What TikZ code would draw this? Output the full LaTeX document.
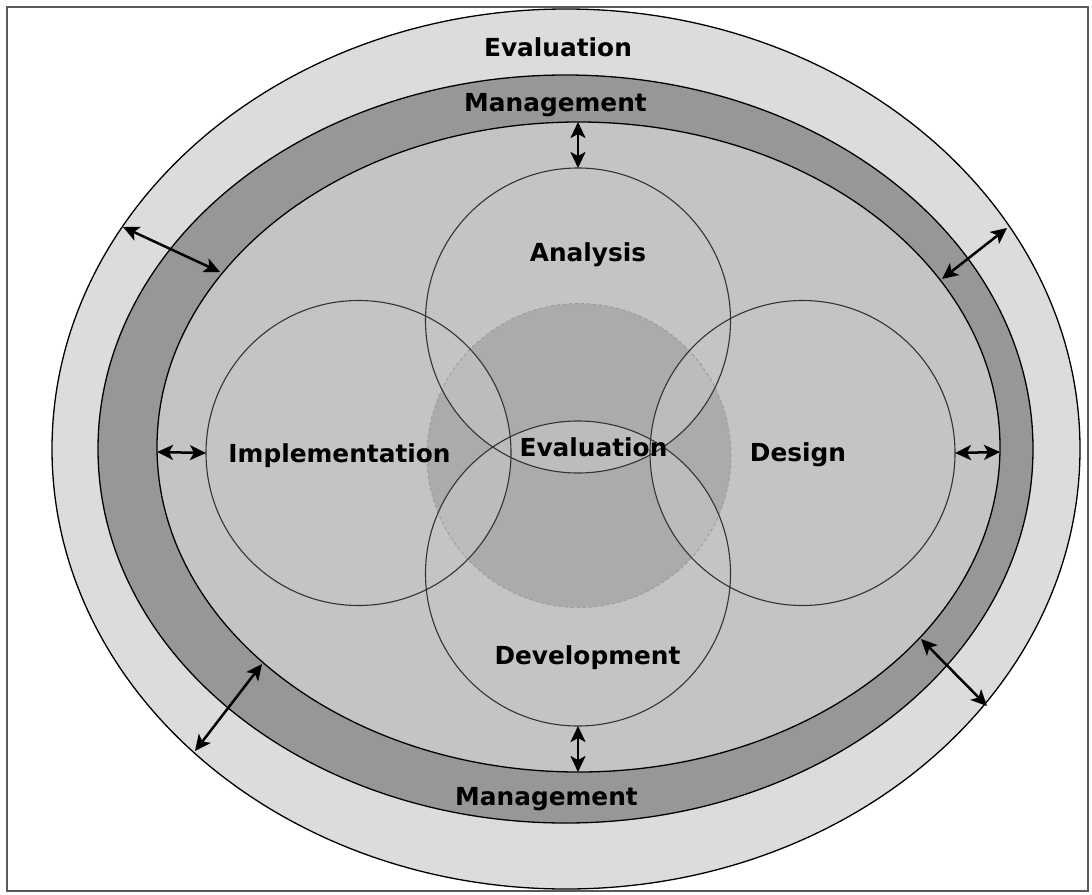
\documentclass[tikz,border=0pt]{standalone}
\usepackage{fontspec}
\setmainfont{DejaVu Sans}
\usetikzlibrary{arrows.meta,shapes.geometric}
\definecolor{ringlight}{HTML}{DCDCDC}
\definecolor{ringdark}{HTML}{979797}
\definecolor{innerfill}{HTML}{C4C4C4}
\definecolor{corefill}{HTML}{ABABAB}
\definecolor{lensfill}{HTML}{BCBCBC}
\definecolor{framegray}{HTML}{5A5A5A}
\definecolor{circline}{HTML}{333333}
\definecolor{dashgray}{HTML}{9A9A9A}
\begin{document}
\begin{tikzpicture}[x=1pt,y=-1pt,
  lbl/.style={font=\bfseries\fontsize{24.8}{28}\selectfont, anchor=base, inner sep=0pt},
  ring/.style={ellipse, draw=black, line width=1.3pt, inner sep=0pt, outer sep=0pt},
  phase/.style={circle, draw=circline, line width=1.1pt, minimum size=305pt, inner sep=0pt, outer sep=0pt},
  corestyle/.style={circle, minimum size=304pt, inner sep=0pt, outer sep=0pt},
  dbl/.style={line width=2.5pt, {Stealth[length=16pt,width=15pt,inset=4pt]}-{Stealth[length=16pt,width=15pt,inset=4pt]}}]
\useasboundingbox (0,0) rectangle (1092,894);
\fill[white] (0,0) rectangle (1092,894);
% rings
\node[ring, fill=ringlight, minimum width=1028pt, minimum height=880pt] (outer) at (566,449) {};
\node[ring, fill=ringdark, minimum width=935pt, minimum height=748pt] (mid) at (565.5,449) {};
\node[ring, fill=innerfill, minimum width=843pt, minimum height=650pt] (inner) at (578.5,447) {};
% core
\node[corestyle, fill=corefill] (core) at (579,455.5) {};
% lenses inside core
\def\pcore{(579,455.5) circle[radius=152pt]}
\def\pana{(578,320.5) circle[radius=152.5pt]}
\def\pimp{(358.5,453) circle[radius=152.5pt]}
\def\pdes{(802.5,453) circle[radius=152.5pt]}
\def\pdev{(578,573.5) circle[radius=152.5pt]}
\begin{scope}\clip \pcore; \clip \pana; \fill[lensfill] \pimp; \end{scope}
\begin{scope}\clip \pcore; \clip \pana; \fill[lensfill] \pdes; \end{scope}
\begin{scope}\clip \pcore; \clip \pana; \fill[lensfill] \pdev; \end{scope}
\begin{scope}\clip \pcore; \clip \pdev; \fill[lensfill] \pimp; \end{scope}
\begin{scope}\clip \pcore; \clip \pdev; \fill[lensfill] \pdes; \end{scope}
\draw[dashgray, dashed, line width=0.9pt] \pcore;
% phase circles
\node[phase] (ana) at (578,320.5) {};
\node[phase] (imp) at (358.5,453) {};
\node[phase] (des) at (802.5,453) {};
\node[phase] (dev) at (578,573.5) {};
% labels
\node[lbl] (tEvalTop) at (558,56) {Evaluation};
\node[lbl] (tMgmtTop) at (555.5,111) {Management};
\node[lbl] (tAna) at (588,261) {Analysis};
\node[lbl] (tImp) at (339.5,462) {Implementation};
\node[lbl] (tEval) at (593.5,456) {Evaluation};
\node[lbl] (tDes) at (798,461) {Design};
\node[lbl] (tDev) at (587.5,664) {Development};
\node[lbl] (tMgmtBot) at (546.5,805) {Management};
% arrows
\coordinate (ulo) at (123,227);
\coordinate (uli) at (220,272);
\coordinate (uro) at (1007,228);
\coordinate (uri) at (942,279);
\coordinate (llo) at (195,751);
\coordinate (lli) at (262,664);
\coordinate (lro) at (987,706);
\coordinate (lri) at (921,639);
\coordinate (topi) at (578,122);
\coordinate (boti) at (578,772);
\coordinate (lefti) at (157,452);
\coordinate (righti) at (1000,452);
\draw[dbl] (topi) -- (ana.north);
\draw[dbl] (dev.south) -- (boti);
\draw[dbl] (lefti) -- (imp.west);
\draw[dbl] (des.east) -- (righti);
\draw[dbl] (ulo) -- (uli);
\draw[dbl] (uro) -- (uri);
\draw[dbl] (llo) -- (lli);
\draw[dbl] (lro) -- (lri);
% frame
\draw[framegray, line width=1.6pt] (7,7) rectangle (1088,891);
\end{tikzpicture}
\end{document}
